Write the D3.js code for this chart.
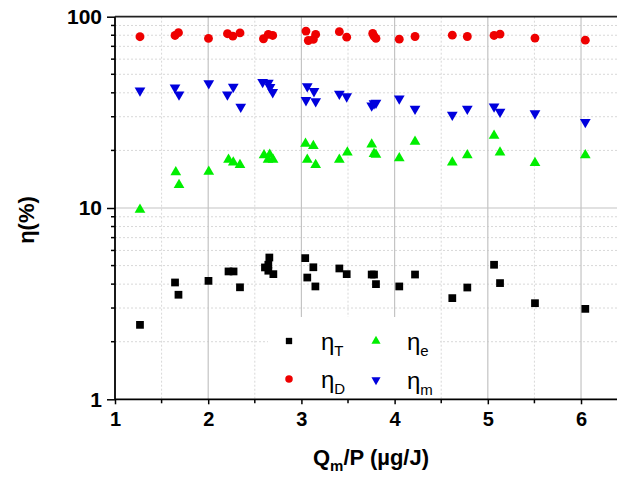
<!DOCTYPE html>
<html>
<head>
<meta charset="utf-8">
<script src="https://cdn.jsdelivr.net/npm/d3@7/dist/d3.min.js"></script>
<style>
  html, body { margin: 0; padding: 0; background: #fff; }
  svg { display: block; font-family: "Liberation Sans", Arial, sans-serif; }
</style>
</head>
<body>
<svg id="chart" width="617" height="478"></svg>
<script>
// Efficiencies (%) versus specific deposition Qm/P (µg/J)
const etaT_x = [1.268, 1.644, 1.681, 2.003, 2.218, 2.272, 2.341, 2.609, 2.645, 2.656, 2.645, 2.699, 3.041, 3.128, 3.063, 3.150, 3.407, 3.486, 3.754, 3.779, 3.800, 4.050, 4.219, 4.619, 4.780, 5.067, 5.131, 5.506, 6.046];
const etaT_y = [2.45, 4.08, 3.52, 4.16, 4.66, 4.66, 3.85, 4.89, 5.05, 5.51, 4.70, 4.51, 5.47, 4.90, 4.33, 3.89, 4.83, 4.51, 4.49, 4.49, 4.00, 3.89, 4.49, 3.38, 3.84, 5.05, 4.05, 3.18, 2.97];

const etaD_x = [1.268, 1.644, 1.681, 2.003, 2.207, 2.264, 2.341, 2.593, 2.645, 2.692, 3.049, 3.074, 3.128, 3.153, 3.407, 3.486, 3.765, 3.779, 3.800, 4.050, 4.219, 4.619, 4.780, 5.067, 5.131, 5.506, 6.046];
const etaD_y = [78.6, 79.8, 82.5, 77.0, 81.5, 79.1, 82.3, 76.7, 80.8, 79.8, 84.1, 75.1, 76.1, 80.8, 83.5, 78.2, 81.8, 79.1, 77.0, 76.3, 78.8, 80.1, 78.8, 79.8, 81.1, 77.3, 75.4];

const etae_x = [1.268, 1.652, 1.687, 2.006, 2.218, 2.269, 2.341, 2.599, 2.660, 2.642, 2.696, 3.044, 3.128, 3.063, 3.153, 3.407, 3.493, 3.754, 3.779, 3.800, 4.050, 4.219, 4.619, 4.780, 5.067, 5.131, 5.506, 6.046];
const etae_y = [9.80, 15.4, 13.2, 15.5, 17.9, 17.3, 16.8, 18.9, 19.0, 17.9, 17.9, 21.7, 21.1, 17.9, 16.8, 17.9, 19.5, 21.5, 19.2, 19.0, 18.2, 22.2, 17.3, 18.9, 23.9, 19.5, 17.2, 18.9];

const etam_x = [1.268, 1.644, 1.687, 2.006, 2.206, 2.269, 2.349, 2.584, 2.645, 2.663, 2.692, 3.049, 3.063, 3.135, 3.153, 3.407, 3.486, 3.754, 3.779, 3.800, 4.050, 4.219, 4.619, 4.780, 5.067, 5.131, 5.506, 6.046];
const etam_y = [41.1, 42.6, 39.2, 44.8, 39.2, 43.0, 33.8, 45.5, 45.1, 42.8, 40.3, 36.6, 43.3, 40.8, 36.1, 39.5, 38.3, 34.3, 35.2, 35.5, 37.3, 33.0, 30.7, 33.0, 33.9, 31.8, 31.2, 28.1];

const xTicks = [1, 2, 3, 4, 5, 6];
const yTicks = [1, 10, 100];

const svg = d3.select("#chart");
const mLeft = 115, mTop = 16.7, mBottom = 399.3, mRight = 618.3;

const x = d3.scaleLinear().domain([1, 6.4]).range([mLeft, mRight]);
const y = d3.scaleLog().domain([1, 100]).range([mBottom, mTop]);

// minor values
const xMinor = d3.range(1.5, 6.4, 1);
const yMinor = [];
[1, 10].forEach(d => { for (let k = 2; k <= 9; k++) yMinor.push(d * k); });

// grid
const grid = svg.append("g");
grid.selectAll(".gxm").data(xMinor).join("line")
  .attr("x1", d => x(d)).attr("x2", d => x(d)).attr("y1", mTop).attr("y2", mBottom)
  .attr("stroke", "#d8d8d8").attr("stroke-width", 1).attr("stroke-dasharray", "2,2");
grid.selectAll(".gym").data(yMinor).join("line")
  .attr("x1", mLeft).attr("x2", mRight).attr("y1", d => y(d)).attr("y2", d => y(d))
  .attr("stroke", "#d8d8d8").attr("stroke-width", 1).attr("stroke-dasharray", "2,2");
grid.selectAll(".gx").data(xTicks.filter(d => d > 1)).join("line")
  .attr("x1", d => x(d)).attr("x2", d => x(d)).attr("y1", mTop).attr("y2", mBottom)
  .attr("stroke", "#c4c4c4").attr("stroke-width", 1.2);
grid.selectAll(".gy").data([10]).join("line")
  .attr("x1", mLeft).attr("x2", mRight).attr("y1", d => y(d)).attr("y2", d => y(d))
  .attr("stroke", "#c4c4c4").attr("stroke-width", 1.2);

// legend panel hides the grid behind it
svg.append("rect").attr("x", 268).attr("y", 317).attr("width", 172).attr("height", mBottom - 317)
  .attr("fill", "#fff");

// axes
const xAxis = d3.axisBottom(x).tickValues(xTicks).tickFormat(d3.format("d")).tickSize(5).tickPadding(8);
const gx = svg.append("g").attr("transform", `translate(0,${mBottom})`).call(xAxis);
gx.select(".domain").remove();
gx.selectAll(".tick line").attr("stroke", "#000").attr("stroke-width", 1.5);
gx.selectAll("text").attr("font-size", 20).attr("font-weight", "bold").attr("fill", "#000");
gx.selectAll(".minor").data(xMinor).join("line").attr("class", "minor")
  .attr("x1", d => x(d)).attr("x2", d => x(d)).attr("y1", 0).attr("y2", 4)
  .attr("stroke", "#000").attr("stroke-width", 1.5);

const yAxis = d3.axisLeft(y).tickValues(yTicks).tickFormat(d3.format("d")).tickSize(8).tickPadding(5);
const gy = svg.append("g").attr("transform", `translate(${mLeft},0)`).call(yAxis);
gy.select(".domain").remove();
gy.selectAll(".tick line").attr("stroke", "#000").attr("stroke-width", 1.5);
gy.selectAll("text").attr("font-size", 21).attr("font-weight", "bold").attr("fill", "#000");
gy.selectAll(".minor").data(yMinor).join("line").attr("class", "minor")
  .attr("x1", -4).attr("x2", 0).attr("y1", d => y(d)).attr("y2", d => y(d))
  .attr("stroke", "#000").attr("stroke-width", 1.5);

// frame
svg.append("line").attr("x1", mLeft).attr("x2", mRight).attr("y1", mBottom).attr("y2", mBottom)
  .attr("stroke", "#000").attr("stroke-width", 1.8);
svg.append("line").attr("x1", mLeft).attr("x2", mLeft).attr("y1", mTop).attr("y2", mBottom)
  .attr("stroke", "#000").attr("stroke-width", 1.8);
svg.append("line").attr("x1", mLeft).attr("x2", mRight).attr("y1", mTop).attr("y2", mTop)
  .attr("stroke", "#222").attr("stroke-width", 1.8);

// series
const series = [
  { xs: etaT_x, ys: etaT_y, type: d3.symbolSquare, size: 60, color: "#000", rot: 0 },
  { xs: etaD_x, ys: etaD_y, type: d3.symbolCircle, size: 62, color: "#ee0000", rot: 0 },
  { xs: etae_x, ys: etae_y, type: d3.symbolTriangle, size: 50, color: "#00ee00", rot: 0 },
  { xs: etam_x, ys: etam_y, type: d3.symbolTriangle, size: 50, color: "#0000dd", rot: 180 }
];
series.forEach(s => {
  svg.append("g").selectAll("path").data(s.xs.map((v, i) => [v, s.ys[i]])).join("path")
    .attr("d", d3.symbol().type(s.type).size(s.size))
    .attr("transform", d => `translate(${x(d[0])},${y(d[1])}) rotate(${s.rot})`)
    .attr("fill", s.color);
});

// legend
const legend = [
  { sym: d3.symbolSquare, size: 40, color: "#000", rot: 0, cx: 289, cy: 341, tx: 321, sub: "T" },
  { sym: d3.symbolTriangle, size: 36, color: "#00ee00", rot: 0, cx: 376, cy: 341, tx: 407, sub: "e" },
  { sym: d3.symbolCircle, size: 44, color: "#ee0000", rot: 0, cx: 289, cy: 379, tx: 321, sub: "D" },
  { sym: d3.symbolTriangle, size: 36, color: "#0000dd", rot: 180, cx: 376, cy: 380, tx: 407, sub: "m" }
];
legend.forEach(l => {
  svg.append("path").attr("d", d3.symbol().type(l.sym).size(l.size)())
    .attr("transform", `translate(${l.cx},${l.cy}) rotate(${l.rot})`).attr("fill", l.color);
  const t = svg.append("text").attr("x", l.tx).attr("y", l.cy + 9).attr("font-size", 24).attr("fill", "#000");
  t.append("tspan").text("η");
  t.append("tspan").attr("dy", 6).attr("font-size", 15).text(l.sub);
});

// axis titles
const xt = svg.append("text").attr("x", 371).attr("y", 465).attr("text-anchor", "middle")
  .attr("font-size", 22).attr("font-weight", "bold").attr("fill", "#000");
xt.append("tspan").text("Q");
xt.append("tspan").attr("dy", 6).attr("font-size", 15).text("m");
xt.append("tspan").attr("dy", -6).text("/P (µg/J)");

svg.append("text").attr("transform", "translate(34,220) rotate(-90)").attr("text-anchor", "middle")
  .attr("font-size", 22).attr("font-weight", "bold").attr("fill", "#000").text("η(%)");
</script>
</body>
</html>
